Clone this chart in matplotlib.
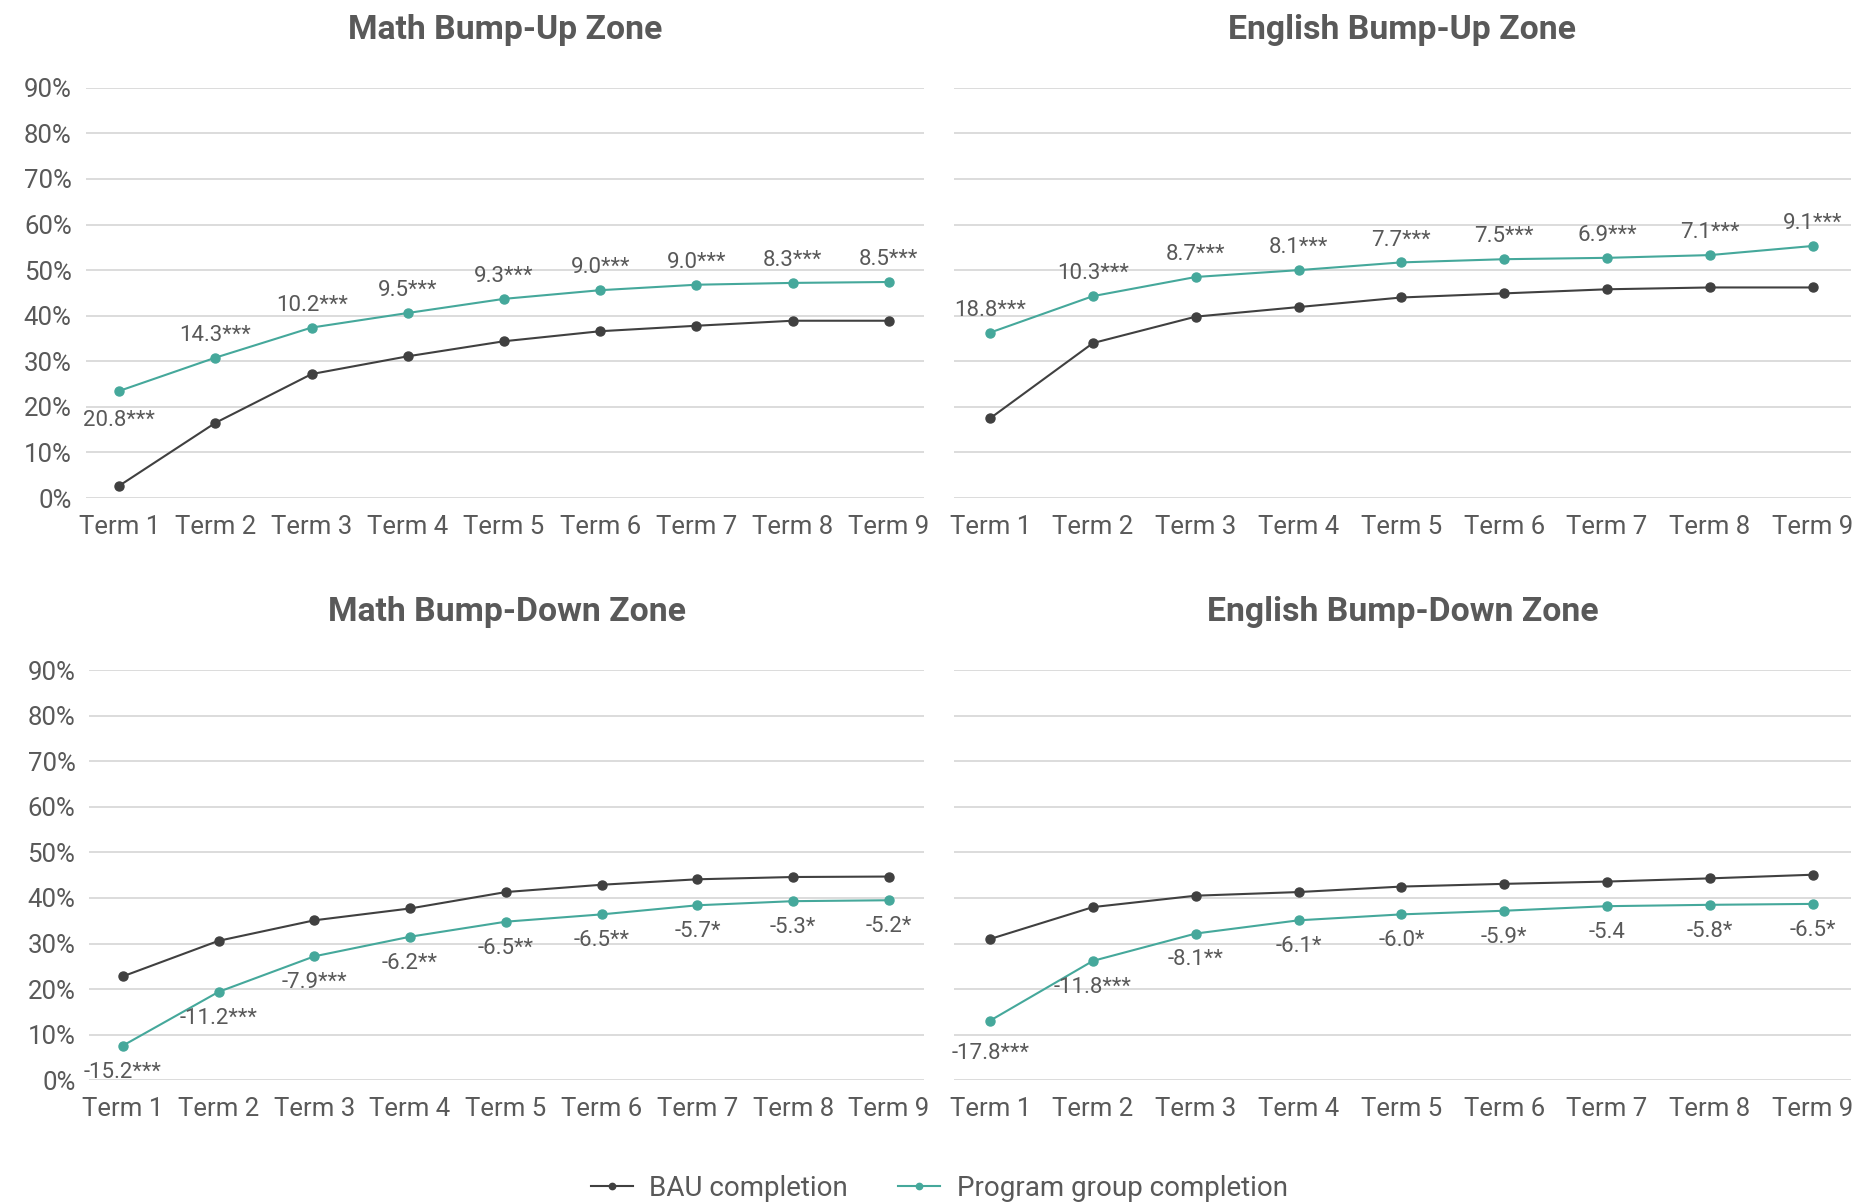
import matplotlib.pyplot as plt

plt.rcParams['font.family'] = ['Roboto', 'DejaVu Sans']

terms = ["Term 1", "Term 2", "Term 3", "Term 4", "Term 5", "Term 6", "Term 7", "Term 8", "Term 9"]
yticks = [0, 10, 20, 30, 40, 50, 60, 70, 80, 90]

# Math Bump-Up Zone
mu_bau = [2.7, 16.5, 27.2, 31.1, 34.4, 36.6, 37.8, 38.9, 38.9]
mu_prog = [23.5, 30.8, 37.4, 40.6, 43.7, 45.6, 46.8, 47.2, 47.4]
mu_lab = ["20.8***", "14.3***", "10.2***", "9.5***", "9.3***", "9.0***", "9.0***", "8.3***", "8.5***"]

# English Bump-Up Zone
eu_bau = [17.5, 34.0, 39.8, 41.9, 44.0, 44.9, 45.8, 46.2, 46.2]
eu_prog = [36.3, 44.3, 48.5, 50.0, 51.7, 52.4, 52.7, 53.3, 55.3]
eu_lab = ["18.8***", "10.3***", "8.7***", "8.1***", "7.7***", "7.5***", "6.9***", "7.1***", "9.1***"]

# Math Bump-Down Zone
md_bau = [22.8, 30.6, 35.1, 37.7, 41.3, 42.9, 44.1, 44.6, 44.7]
md_prog = [7.6, 19.4, 27.2, 31.5, 34.8, 36.4, 38.4, 39.3, 39.5]
md_lab = ["-15.2***", "-11.2***", "-7.9***", "-6.2**", "-6.5**", "-6.5**", "-5.7*", "-5.3*", "-5.2*"]

# English Bump-Down Zone
ed_bau = [31.0, 38.0, 40.5, 41.3, 42.5, 43.1, 43.6, 44.3, 45.1]
ed_prog = [13.1, 26.2, 32.2, 35.1, 36.4, 37.2, 38.2, 38.5, 38.7]
ed_lab = ["-17.8***", "-11.8***", "-8.1**", "-6.1*", "-6.0*", "-5.9*", "-5.4", "-5.8*", "-6.5*"]

bau_col = "#404040"
prog_col = "#45a89b"
txt_col = "#595959"
grid_col = "#d9d9d9"

fig = plt.figure(figsize=(18.6, 12.03), dpi=100)

panels = [
    ("Math Bump-Up Zone", [0.046, 0.586, 0.451, 0.341], mu_bau, mu_prog, mu_lab, True, True),
    ("English Bump-Up Zone", [0.513, 0.586, 0.482, 0.341], eu_bau, eu_prog, eu_lab, True, False),
    ("Math Bump-Down Zone", [0.048, 0.102, 0.449, 0.341], md_bau, md_prog, md_lab, False, True),
    ("English Bump-Down Zone", [0.513, 0.102, 0.482, 0.341], ed_bau, ed_prog, ed_lab, False, False),
]

x = list(range(len(terms)))
for title, rect, bau, prog, labs, up, show_y in panels:
    ax = fig.add_axes(rect)
    ax.plot(x, bau, color=bau_col, lw=1.5, marker="o", ms=6.5, label="BAU completion", zorder=3)
    ax.plot(x, prog, color=prog_col, lw=1.5, marker="o", ms=6.5, label="Program group completion", zorder=3)
    for i, s in enumerate(labs):
        dy = 16 if up else -19
        if up and i == 0 and title.startswith("Math"):
            dy = -21
        if not up and i == 0 and title.startswith("English"):
            dy = -24
        ax.annotate(s, (x[i], prog[i]), xytext=(0, dy), textcoords="offset points",
                    ha="center", va="center", fontsize=16, color=txt_col)
    ax.set_ylim(0, 90)
    ax.set_xlim(-0.35, 8.37)
    ax.set_yticks(yticks)
    ax.set_yticklabels([f"{v}%" for v in yticks] if show_y else [])
    ax.set_xticks(x)
    ax.set_xticklabels(terms)
    ax.tick_params(length=0, labelsize=18.5, labelcolor=txt_col, pad=12)
    ax.tick_params(axis="y", pad=10)
    ax.grid(axis="y", color=grid_col, lw=1.3)
    ax.set_axisbelow(True)
    for sp in ax.spines.values():
        sp.set_visible(False)
    cx = rect[0] + rect[2] / 2
    ty = 0.975 if up else 0.491
    fig.text(cx, ty, title, ha="center", va="center", fontsize=24.3, fontweight="bold", color=txt_col)

handles, labels = ax.get_legend_handles_labels()
fig.legend(handles, labels, loc="center", bbox_to_anchor=(0.505, 0.012), ncol=2, frameon=False,
           fontsize=20, labelcolor=txt_col, handlelength=1.5, handletextpad=0.6,
           columnspacing=1.8, markerscale=0.7)

fig.savefig("out.png", dpi=100)
